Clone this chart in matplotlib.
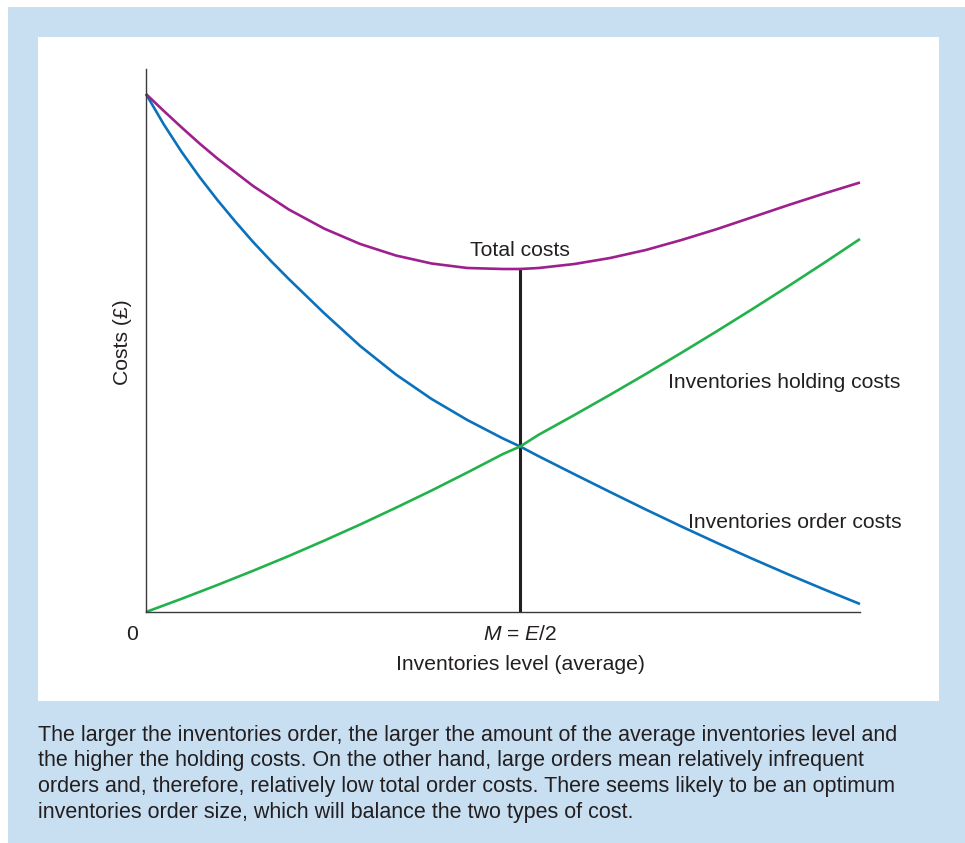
import matplotlib
matplotlib.use("Agg")
import matplotlib.pyplot as plt
from matplotlib.patches import Rectangle

plt.rcParams['font.family'] = ['Liberation Sans', 'DejaVu Sans']
plt.rcParams['mathtext.fontset'] = 'custom'
plt.rcParams['mathtext.rm'] = 'Liberation Sans'
plt.rcParams['mathtext.it'] = 'Liberation Sans:italic'

# Curves (x: 0..10 along axis, y: arbitrary cost units)
order_x = [0, 0.25, 0.5, 0.75, 1.0, 1.25, 1.5, 1.75, 2.0, 2.5, 3.0, 3.5, 4.0, 4.5,
           5.0, 5.24, 5.5, 6.0, 6.5, 7.0, 7.5, 8.0, 8.5, 9.0, 9.5, 10.0]
order_y = [10.36, 9.75, 9.20, 8.70, 8.24, 7.81, 7.40, 7.02, 6.66, 5.97, 5.32, 4.75, 4.26, 3.84,
           3.47, 3.31, 3.115, 2.755, 2.40, 2.05, 1.71, 1.38, 1.06, 0.75, 0.45, 0.16]

holding_x = [0, 0.5, 1.0, 1.5, 2.0, 2.5, 3.0, 3.5, 4.0, 4.5, 5.0, 5.24,
             5.5, 6.0, 6.5, 7.0, 7.5, 8.0, 8.5, 9.0, 9.5, 10.0]
holding_y = [0, 0.265, 0.54, 0.825, 1.12, 1.43, 1.75, 2.085, 2.43, 2.79, 3.16, 3.31,
             3.545, 3.94, 4.345, 4.76, 5.185, 5.62, 6.065, 6.52, 6.985, 7.46]

total_x = [0, 0.25, 0.5, 0.75, 1.0, 1.5, 2.0, 2.5, 3.0, 3.5, 4.0, 4.5, 5.0, 5.24,
           5.5, 6.0, 6.5, 7.0, 7.5, 8.0, 8.5, 9.0, 9.5, 10.0]
total_y = [10.36, 10.02, 9.69, 9.37, 9.07, 8.52, 8.05, 7.665, 7.36, 7.13, 6.97, 6.88, 6.86, 6.86,
           6.88, 6.96, 7.08, 7.24, 7.44, 7.66, 7.90, 8.14, 8.37, 8.59]

optimum_x = 5.24
optimum_y = 6.86

caption_lines = [
    "The larger the inventories order, the larger the amount of the average inventories level and",
    "the higher the holding costs. On the other hand, large orders mean relatively infrequent",
    "orders and, therefore, relatively low total order costs. There seems likely to be an optimum",
    "inventories order size, which will balance the two types of cost.",
]

TEXT = '#231f20'
PURPLE = '#9e1f8e'
BLUE = '#0a72bc'
GREEN = '#22b24c'

W, H = 965, 843
fig = plt.figure(figsize=(W / 100, H / 100), dpi=100)
fig.patch.set_facecolor('white')

# light blue box and white panel
fig.add_artist(Rectangle((8 / W, 0), 1 - 8 / W, (H - 7) / H, transform=fig.transFigure,
                         facecolor='#c8dff2', edgecolor='none', zorder=0))
fig.add_artist(Rectangle((38 / W, 1 - 701 / H), 901 / W, 664 / H, transform=fig.transFigure,
                         facecolor='white', edgecolor='none', zorder=0))

ax = fig.add_axes([146 / W, 1 - 612 / H, 714 / W, 543 / H])
ax.set_facecolor('none')
ax.set_xlim(0, 10)
ax.set_ylim(0, 10.86)
for side in ['top', 'right']:
    ax.spines[side].set_visible(False)
for side in ['left', 'bottom']:
    ax.spines[side].set_color('#3a3a3a')
    ax.spines[side].set_linewidth(1.0)
ax.set_xticks([])
ax.set_yticks([])

ax.plot(order_x, order_y, color=BLUE, lw=1.9, clip_on=False, solid_capstyle='butt')
ax.plot(holding_x, holding_y, color=GREEN, lw=1.9, clip_on=False, solid_capstyle='butt')
ax.plot(total_x, total_y, color=PURPLE, lw=1.9, clip_on=False, solid_capstyle='butt')
ax.plot([optimum_x, optimum_x], [0, optimum_y], color=TEXT, lw=2.2, zorder=1)

fs = 15.2
ax.text(optimum_x, 7.05, "Total costs", ha='center', va='bottom', fontsize=fs, color=TEXT)
ax.text(7.31, 4.6, "Inventories holding costs", ha='left', va='center', fontsize=fs, color=TEXT)
ax.text(7.59, 1.78, "Inventories order costs", ha='left', va='center', fontsize=fs, color=TEXT)
ax.text(-0.2, -0.44, "0", ha='center', va='center', fontsize=fs, color=TEXT)
ax.text(optimum_x, -0.44, r"$M$ = $E$/2", ha='center', va='center', fontsize=fs, color=TEXT)
ax.text(5.24, -1.05, "Inventories level (average)", ha='center', va='center', fontsize=fs, color=TEXT)
ax.text(-0.33, 5.4, "Costs (£)", ha='center', va='center', rotation=90, fontsize=fs, color=TEXT)

for i, line in enumerate(caption_lines):
    fig.text(38 / W, 1 - (735 + 25.7 * i) / H, line, ha='left', va='center',
             fontsize=15.5, color=TEXT)

fig.savefig('out.png', dpi=100, facecolor=fig.get_facecolor())
